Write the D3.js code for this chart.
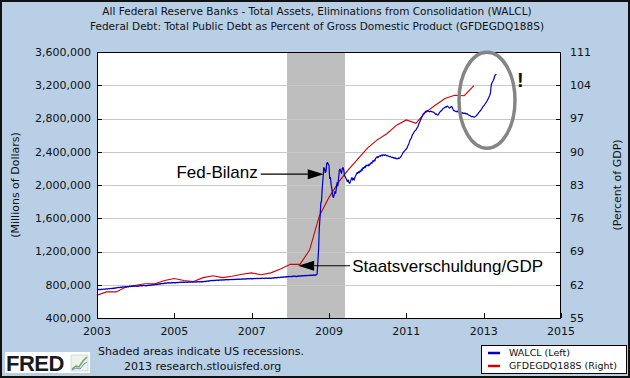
<!DOCTYPE html>
<html><head><meta charset="utf-8">
<script src="https://cdn.jsdelivr.net/npm/d3@7"></script>
<style>body{margin:0;background:#fff;} svg{display:block;}</style>
</head><body>
<svg id="c" width="630" height="378"></svg>
<script>
// ---------- data ----------
const titleLines = [
  "All Federal Reserve Banks - Total Assets, Eliminations from Consolidation (WALCL)",
  "Federal Debt: Total Public Debt as Percent of Gross Domestic Product (GFDEGDQ188S)"
];
const leftTicks = [400000, 800000, 1200000, 1600000, 2000000, 2400000, 2800000, 3200000, 3600000];
const rightTicks = [55, 62, 69, 76, 83, 90, 97, 104, 111];
const yearTicks = [2003, 2005, 2007, 2009, 2011, 2013, 2015];
const recession = ["2007-12-01", "2009-06-01"];
const leftLabel = "(Millions of Dollars)";
const rightLabel = "(Percent of GDP)";
const legendLabels = ["WALCL (Left)", "GFDEGDQ188S (Right)"];
const footerLines = ["Shaded areas indicate US recessions.", "2013 research.stlouisfed.org"];

// WALCL weekly (Wednesdays) starting 2003-01-01, in billions of dollars
const walclStart = "2003-01-01";
const walcl = [
  // 2003
  742,738,745,740,744,741,747,743,746,749,745,750,748,752,747,751,755,750,754,758,753,757,760,756,762,759,765,761,766,770,764,768,772,767,771,775,770,774,778,772,776,780,775,779,783,777,781,785,779,783,787,781,785,
  // 2004
  783,779,786,781,788,784,790,785,791,787,793,788,790,786,792,788,795,790,797,792,799,794,801,796,803,798,806,800,808,803,811,806,814,808,816,811,818,813,820,815,822,817,824,819,826,820,825,819,827,821,828,823,
  // 2005
  826,821,828,823,830,825,831,826,832,827,833,828,832,827,834,829,833,828,835,830,834,829,836,831,835,830,837,832,836,831,838,833,837,832,839,834,838,833,840,835,842,837,844,839,846,841,849,844,852,847,854,849,
  // 2006
  853,848,855,850,856,851,857,852,858,853,859,854,860,855,861,856,862,857,863,858,864,859,864,860,865,860,866,861,867,862,867,863,868,863,869,864,869,865,870,865,871,866,872,867,873,868,874,869,875,870,876,871,
  // 2007
  874,869,876,871,877,872,878,873,879,874,878,873,879,874,880,875,879,874,880,875,881,876,880,875,881,876,882,877,884,879,886,881,887,882,889,884,890,885,892,887,893,888,895,890,896,891,898,893,900,895,901,896,
  // 2008
  898,902,896,904,899,906,901,903,897,905,900,907,902,908,903,910,905,911,906,912,907,913,908,914,909,915,910,916,911,917,912,918,913,919,914,921,
  926,1065,1215,1490,1610,1780,1810,1970,2080,2210,2200,2150,2160,2260,2270,2250,2240,
  // 2009
  2080,2090,2000,1950,1870,1850,1880,1920,1900,1960,2030,1990,2080,2180,2190,2160,2140,2200,2210,2180,2110,2100,2080,2060,2040,2060,2030,2020,2040,2070,2090,2060,2080,2060,2090,2110,2130,2150,2140,2160,2150,2170,2160,2190,2180,2210,2200,2220,2210,2240,2230,2240,
  // 2010
  2230,2250,2240,2260,2270,2260,2290,2280,2300,2290,2320,2330,2340,2330,2340,2350,2345,2355,2360,2350,2365,2360,2355,2365,2360,2350,2355,2350,2345,2340,2345,2335,2330,2335,2325,2330,2320,2325,2315,2320,2315,2325,2320,2330,2340,2355,2370,2390,2400,2410,2420,2430,
  // 2011
  2440,2460,2480,2500,2530,2550,2560,2590,2610,2620,2640,2650,2660,2670,2690,2700,2730,2750,2770,2790,2810,2830,2850,2860,2870,2880,2890,2880,2895,2890,2885,2880,2890,2885,2880,2880,2875,2870,2860,2850,2855,2845,2840,2850,2870,2880,2890,2895,2910,2920,2925,2930,
  // 2012
  2940,2935,2945,2950,2940,2930,2925,2935,2945,2940,2920,2900,2895,2890,2885,2880,2890,2880,2875,2870,2875,2870,2865,2870,2860,2865,2860,2865,2855,2860,2850,2845,2840,2835,2830,2825,2820,2825,2820,2815,2820,2825,2835,2845,2855,2870,2880,2890,2900,2915,2930,2945,
  // 2013
  2955,2965,2980,2990,3005,3020,3040,3060,3080,3110,3200,3230,3245,3260,3290,3320,3325,3335
];

// GFDEGDQ188S quarterly starting 2003Q1, percent of GDP
const debtStart = "2003-01-01";
const debtPct = [
  59.8,60.5,60.5,61.5, 61.9,62.2,62.2,62.9, 63.3,62.9,62.7,63.5, 63.9,63.5,63.8,64.2,
  64.5,64.1,64.5,65.3, 66.3,66.3,69.3,76.5, 80.4,83.6,86.2,88.5, 90.8,92.5,93.8,95.6,
  96.7,96.0,98.3,99.8, 101.2,101.9,101.8,103.9
];

// ---------- chart ----------
const svg = d3.select("#c");
const W = 630, H = 378;
const P = {l: 97, r: 561, t: 52, b: 318};
const parse = d3.timeParse("%Y-%m-%d");
const axisFont = "'DejaVu Sans', Verdana, sans-serif";
const annFont = "'Liberation Sans', Arial, sans-serif";

const x = d3.scaleTime().domain([new Date(2003,0,1), new Date(2015,0,1)]).range([P.l, P.r]);
const yL = d3.scaleLinear().domain([400000, 3600000]).range([P.b, P.t]);
const yR = d3.scaleLinear().domain([55, 111]).range([P.b, P.t]);

const walclData = walcl.map((v,i) => ({d: d3.timeWeek.offset(parse(walclStart), i), v: v*1000}));
const debtData = debtPct.map((v,i) => ({d: d3.timeMonth.offset(parse(debtStart), 3*i), v}));

// background
svg.append("rect").attr("x",1).attr("y",1).attr("width",W-2).attr("height",H-2)
  .attr("fill","#b8cfe6").attr("stroke","#111").attr("stroke-width",2);

// title
svg.selectAll("text.title").data(titleLines).join("text")
  .attr("x", 317).attr("y", (d,i) => 15 + i*15)
  .attr("text-anchor","middle").attr("font-family",axisFont).attr("font-size",10.5)
  .attr("fill","#111").text(d => d);

// plot area
svg.append("rect").attr("x",P.l).attr("y",P.t).attr("width",P.r-P.l).attr("height",P.b-P.t).attr("fill","#fff");

// recession shading
svg.append("rect")
  .attr("x", x(parse(recession[0]))).attr("y", P.t)
  .attr("width", x(parse(recession[1])) - x(parse(recession[0])))
  .attr("height", P.b - P.t).attr("fill","#bebebe");

// gridlines
const snap = v => Math.round(v) + 0.5;
svg.append("g").selectAll("line").data(leftTicks.slice(1,-1)).join("line")
  .attr("x1",P.l).attr("x2",P.r).attr("y1",d=>snap(yL(d))).attr("y2",d=>snap(yL(d)))
  .attr("stroke","#c8c8c8").attr("stroke-width",1);

// series
const lineL = d3.line().x(d=>x(d.d)).y(d=>yL(d.v));
const lineR = d3.line().x(d=>x(d.d)).y(d=>yR(d.v));
svg.append("path").datum(debtData).attr("d",lineR).attr("fill","none")
  .attr("stroke","#d00000").attr("stroke-width",1.1);
svg.append("path").datum(walclData).attr("d",lineL).attr("fill","none")
  .attr("stroke","#0000c0").attr("stroke-width",1.2).attr("stroke-linejoin","round");

// border
svg.append("rect").attr("x",P.l+0.5).attr("y",P.t+0.5).attr("width",P.r-P.l-1).attr("height",P.b-P.t)
  .attr("fill","none").attr("stroke","#000").attr("stroke-width",1);

// ticks
const tk = svg.append("g").attr("stroke","#000").attr("stroke-width",1);
tk.selectAll("line.l").data(leftTicks).join("line")
  .attr("x1",P.l).attr("x2",P.l+5).attr("y1",d=>snap(yL(d))).attr("y2",d=>snap(yL(d)));
tk.selectAll("line.r").data(rightTicks).join("line").attr("class","r")
  .attr("x1",P.r-5).attr("x2",P.r).attr("y1",d=>snap(yR(d))).attr("y2",d=>snap(yR(d)));
tk.selectAll("line.x").data(yearTicks).join("line").attr("class","x")
  .attr("x1",d=>snap(x(new Date(d,0,1)))).attr("x2",d=>snap(x(new Date(d,0,1))))
  .attr("y1",P.b).attr("y2",P.b-5);

// tick labels
const fmt = d3.format(",");
svg.append("g").selectAll("text").data(leftTicks).join("text")
  .attr("x", 91).attr("y", d => yL(d)).attr("dy","0.36em")
  .attr("text-anchor","end").attr("font-family",axisFont).attr("font-size",11).attr("fill","#111")
  .text(d => fmt(d));
svg.append("g").selectAll("text").data(rightTicks).join("text")
  .attr("x", 570).attr("y", d => yR(d)).attr("dy","0.36em")
  .attr("text-anchor","start").attr("font-family",axisFont).attr("font-size",11).attr("fill","#111")
  .text(d => d);
svg.append("g").selectAll("text").data(yearTicks).join("text")
  .attr("x", d => x(new Date(d,0,1))).attr("y", 335)
  .attr("text-anchor","middle").attr("font-family",axisFont).attr("font-size",11).attr("fill","#111")
  .text(d => d);

// axis titles
svg.append("text").attr("transform",`translate(19,${(P.t+P.b)/2}) rotate(-90)`)
  .attr("text-anchor","middle").attr("font-family",axisFont).attr("font-size",11).attr("fill","#111").text(leftLabel);
svg.append("text").attr("transform",`translate(621,${(P.t+P.b)/2}) rotate(-90)`)
  .attr("text-anchor","middle").attr("font-family",axisFont).attr("font-size",11).attr("fill","#111").text(rightLabel);

// annotations
function arrow(tipX, tipY, tailX, dir) {
  const g = svg.append("g");
  const headLen = 16, half = 5;
  g.append("line").attr("x1",tailX).attr("x2",tipX - dir*headLen).attr("y1",tipY).attr("y2",tipY)
    .attr("stroke","#000").attr("stroke-width",1.2);
  g.append("path").attr("d",`M${tipX},${tipY} L${tipX-dir*headLen},${tipY-half} L${tipX-dir*headLen},${tipY+half} Z`)
    .attr("fill","#000");
}
const fedTip = {x: x(parse("2008-11-12")), y: yL(2130000)};
arrow(fedTip.x, fedTip.y, fedTip.x - 63, 1);
svg.append("text").attr("x", fedTip.x - 66).attr("y", fedTip.y + 4).attr("text-anchor","end")
  .attr("font-family",annFont).attr("font-size",17).attr("fill","#000").text("Fed-Bilanz");

const debtTip = {x: x(parse("2008-03-15")), y: yR(66.0)};
arrow(debtTip.x, debtTip.y, debtTip.x + 52, -1);
svg.append("text").attr("x", debtTip.x + 54).attr("y", debtTip.y + 6).attr("text-anchor","start")
  .attr("font-family",annFont).attr("font-size",17).attr("fill","#000").text("Staatsverschuldung/GDP");

const circ = {x: x(parse("2013-02-01")), y: yL(3020000)};
svg.append("ellipse").attr("cx",circ.x).attr("cy",circ.y).attr("rx",28).attr("ry",48)
  .attr("fill","none").attr("stroke","#858585").attr("stroke-width",3.5);
svg.append("text").attr("x", circ.x + 30).attr("y", circ.y - 13)
  .attr("font-family",annFont).attr("font-weight","bold").attr("font-size",20).attr("fill","#111").text("!");

// footer
svg.append("text").attr("x",98).attr("y",355).attr("font-family",axisFont).attr("font-size",11)
  .attr("fill","#111").text(footerLines[0]);
svg.append("text").attr("x",124).attr("y",370).attr("font-family",axisFont).attr("font-size",11)
  .attr("fill","#111").text(footerLines[1]);

// FRED logo
const logo = svg.append("g");
logo.append("rect").attr("x",5).attr("y",352).attr("width",85).attr("height",21).attr("fill","#fff");
logo.append("text").attr("x",6).attr("y",371).attr("font-family",annFont).attr("font-weight","bold")
  .attr("font-size",22).attr("fill","#1a1a1a").attr("letter-spacing",-0.5).text("FRED");
logo.append("rect").attr("x",71).attr("y",355).attr("width",17).attr("height",16).attr("fill","#eef2ee").attr("stroke","#bbb").attr("stroke-width",0.5);
logo.append("path").attr("d","M72,369 L76,366 L79,367 L83,361 L87,357").attr("fill","none").attr("stroke","#6aa84f").attr("stroke-width",1.4);
logo.append("path").attr("d","M72,370 L76,368 L80,369 L84,364 L87,362").attr("fill","none").attr("stroke","#5b8fd0").attr("stroke-width",1);

// legend
const lg = svg.append("g");
lg.append("rect").attr("x",481.5).attr("y",345.5).attr("width",145).attr("height",28)
  .attr("fill","#fff").attr("stroke","#000").attr("stroke-width",1);
const legendColors = ["#0000c0", "#d00000"];
legendLabels.forEach((t,i) => {
  lg.append("line").attr("x1",488).attr("x2",500).attr("y1",353+i*13).attr("y2",353+i*13)
    .attr("stroke",legendColors[i]).attr("stroke-width",2.5);
  lg.append("text").attr("x",509).attr("y",353+i*13).attr("dy","0.35em")
    .attr("font-family",axisFont).attr("font-size",9.5).attr("fill","#111").text(t);
});
</script>
</body></html>
